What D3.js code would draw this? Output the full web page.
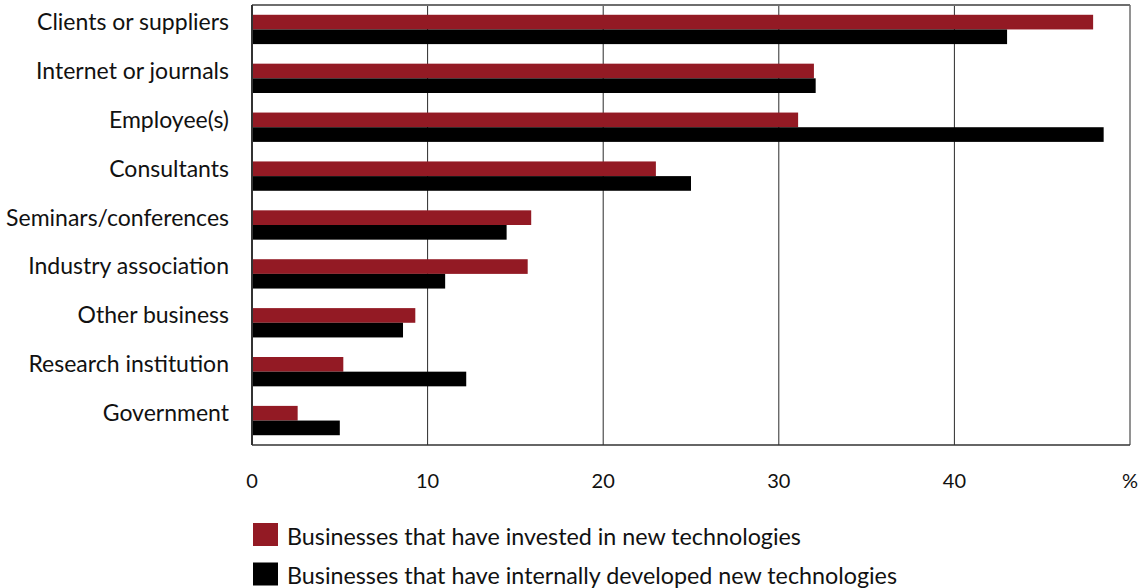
<!DOCTYPE html>
<html>
<head>
<meta charset="utf-8">
<script src="https://cdn.jsdelivr.net/npm/d3@7"></script>
<style>
  html, body { margin: 0; padding: 0; background: #fff; }
  svg { display: block; }
  text { font-family: Lato, "Open Sans", sans-serif; fill: #111; }
</style>
</head>
<body>
<svg id="chart" width="1141" height="588"></svg>
<script>
// Sources of information on new technologies, % of businesses
const categories = [
  "Clients or suppliers",
  "Internet or journals",
  "Employee(s)",
  "Consultants",
  "Seminars/conferences",
  "Industry association",
  "Other business",
  "Research institution",
  "Government"
];
const investedValues = [47.9, 32.0, 31.1, 23.0, 15.9, 15.7, 9.3, 5.2, 2.6];
const developedValues = [43.0, 32.1, 48.5, 25.0, 14.5, 11.0, 8.6, 12.2, 5.0];
const seriesNames = [
  "Businesses that have invested in new technologies",
  "Businesses that have internally developed new technologies"
];
const seriesColors = ["#931a24", "#000000"];
const tickValues = [0, 10, 20, 30, 40, 50];
const tickLabels = ["0", "10", "20", "30", "40", "%"];

const svg = d3.select("#chart");
const plot = { left: 252, right: 1130, top: 5, bottom: 445 };

const x = d3.scaleLinear().domain([0, 50]).range([plot.left, plot.right]);
const y = d3.scaleBand().domain(categories).range([plot.top, plot.bottom])
  .paddingInner(0.4).paddingOuter(0.2);
const sub = d3.scaleBand().domain([0, 1]).range([0, y.bandwidth()]);

// vertical gridlines
svg.append("g").selectAll("line")
  .data(tickValues.slice(1, -1))
  .join("line")
  .attr("x1", d => x(d)).attr("x2", d => x(d))
  .attr("y1", plot.top).attr("y2", plot.bottom)
  .attr("stroke", "#2b2b2b").attr("stroke-width", 1);

// bars
const rows = categories.map((c, i) => ({ c, v: [investedValues[i], developedValues[i]] }));
const groups = svg.append("g").selectAll("g")
  .data(rows).join("g")
  .attr("transform", d => `translate(0,${y(d.c)})`);
groups.selectAll("rect")
  .data(d => d.v.map((v, k) => ({ v, k })))
  .join("rect")
  .attr("x", x(0))
  .attr("y", d => sub(d.k))
  .attr("width", d => x(d.v) - x(0))
  .attr("height", sub.bandwidth())
  .attr("fill", d => seriesColors[d.k]);

// plot frame
svg.append("line").attr("x1", plot.left).attr("x2", plot.right)
  .attr("y1", plot.top).attr("y2", plot.top)
  .attr("stroke", "#6e6e6e").attr("stroke-width", 2);
svg.append("line").attr("x1", plot.right).attr("x2", plot.right)
  .attr("y1", plot.top).attr("y2", plot.bottom)
  .attr("stroke", "#6e6e6e").attr("stroke-width", 1.5);
svg.append("line").attr("x1", plot.left).attr("x2", plot.left)
  .attr("y1", plot.top).attr("y2", plot.bottom)
  .attr("stroke", "#333").attr("stroke-width", 2);
svg.append("line").attr("x1", plot.left).attr("x2", plot.right)
  .attr("y1", plot.bottom).attr("y2", plot.bottom)
  .attr("stroke", "#333").attr("stroke-width", 1.5);

// category labels
svg.append("g").selectAll("text")
  .data(categories).join("text")
  .attr("x", 229)
  .attr("y", d => y(d) + y.bandwidth() / 2 + 0.5)
  .attr("text-anchor", "end")
  .style("font-size", "23px")
  .text(d => d);

// x tick labels
svg.append("g").selectAll("text")
  .data(tickValues).join("text")
  .attr("x", (d, i) => x(d))
  .attr("y", 488)
  .attr("text-anchor", "middle")
  .style("font-size", "20px")
  .text((d, i) => tickLabels[i]);

// legend
const legend = svg.append("g").attr("transform", "translate(253,523)");
seriesNames.forEach((name, i) => {
  const g = legend.append("g").attr("transform", `translate(0,${i * 39.5})`);
  g.append("rect").attr("width", 25).attr("height", 23).attr("fill", seriesColors[i]);
  g.append("text").attr("x", 34).attr("y", 21.5)
    .style("font-size", "23.3px").text(name);
});
</script>
</body>
</html>
